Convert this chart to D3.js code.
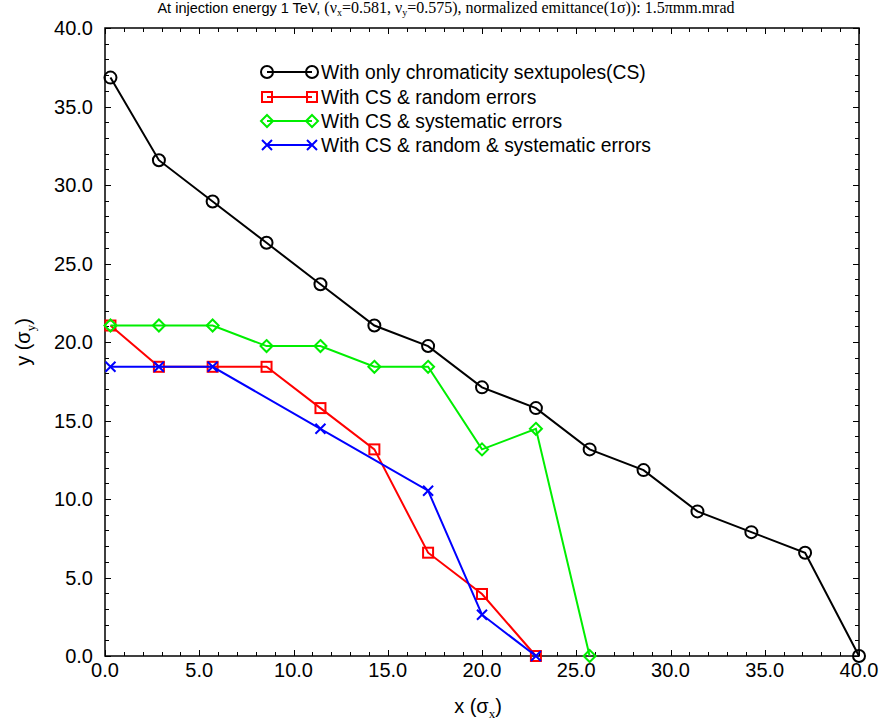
<!DOCTYPE html>
<html><head><meta charset="utf-8">
<script src="https://cdn.jsdelivr.net/npm/d3@7"></script>
<style>body{margin:0;background:#fff}svg{display:block}</style>
</head><body>
<svg id="c" width="885" height="725"></svg>
<script>
const xTicks = [0,5,10,15,20,25,30,35,40];
const yTicks = [0,5,10,15,20,25,30,35,40];
const seriesNames = ["With only chromaticity sextupoles(CS)","With CS & random errors","With CS & systematic errors","With CS & random & systematic errors"];
const seriesColors = ["#000000","#ff0000","#00ee00","#0000ff"];
const seriesMarkers = ["circle","square","diamond","cross"];
const xCS = [0.29,2.86,5.71,8.57,11.43,14.29,17.14,20.0,22.86,25.71,28.57,31.43,34.29,37.14,40.0];
const yCS = [36.84,31.58,28.95,26.32,23.68,21.05,19.74,17.11,15.79,13.16,11.84,9.21,7.89,6.58,0.0];
const xRand = [0.29,2.86,5.71,8.57,11.43,14.29,17.14,20.0,22.86];
const yRand = [21.05,18.42,18.42,18.42,15.79,13.16,6.58,3.95,0.0];
const xSys = [0.29,2.86,5.71,8.57,11.43,14.29,17.14,20.0,22.86,25.71];
const ySys = [21.05,21.05,21.05,19.74,19.74,18.42,18.42,13.16,14.47,0.0];
const xBoth = [0.29,2.86,5.71,11.43,17.14,20.0,22.86];
const yBoth = [18.42,18.42,18.42,14.47,10.53,2.63,0.0];

const series = [
  {x:xCS,y:yCS},{x:xRand,y:yRand},{x:xSys,y:ySys},{x:xBoth,y:yBoth}
].map((s,i)=>({name:seriesNames[i],color:seriesColors[i],marker:seriesMarkers[i],pts:s.x.map((v,j)=>[v,s.y[j]])}));

const svg = d3.select("#c");
const L=105,R=859,T=28,B=656;
const x = d3.scaleLinear().domain([0,40]).range([L,R]);
const y = d3.scaleLinear().domain([0,40]).range([B,T]);
const sans = "Liberation Sans, Arial, sans-serif";
const serif = "Liberation Serif, Times New Roman, serif";

// ticks (inward, all sides)
const minor = d3.range(0,41,1);
const g = svg.append("g").attr("stroke","#000").attr("stroke-width",1);
minor.forEach(v=>{
  const len = v%5===0?6:4;
  const xv = Math.round(x(v))+0.5, yv=Math.round(y(v))+0.5;
  g.append("line").attr("x1",xv).attr("x2",xv).attr("y1",B).attr("y2",B-len);
  g.append("line").attr("x1",xv).attr("x2",xv).attr("y1",T).attr("y2",T+len);
  g.append("line").attr("x1",L).attr("x2",L+len).attr("y1",yv).attr("y2",yv);
  g.append("line").attr("x1",R).attr("x2",R-len).attr("y1",yv).attr("y2",yv);
});
svg.append("rect").attr("x",L).attr("y",T).attr("width",R-L).attr("height",B-T)
  .attr("fill","none").attr("stroke","#000").attr("stroke-width",1.5);

// tick labels
svg.append("g").selectAll("text").data(xTicks).join("text")
  .attr("x",d=>x(d)).attr("y",677).attr("text-anchor","middle")
  .attr("font-family",sans).attr("font-size",20).text(d=>d.toFixed(1));
svg.append("g").selectAll("text").data(yTicks).join("text")
  .attr("x",93).attr("y",d=>y(d)+7).attr("text-anchor","end")
  .attr("font-family",sans).attr("font-size",20).text(d=>d.toFixed(1));

// axis titles
const xl = svg.append("text").attr("x",478).attr("y",713).attr("text-anchor","middle")
  .attr("font-family",sans).attr("font-size",20);
xl.append("tspan").text("x (σ");
xl.append("tspan").attr("font-family",serif).attr("font-size",13).attr("dy",5).text("x");
xl.append("tspan").attr("dy",-5).text(")");
const yl = svg.append("text").attr("transform","translate(30,342) rotate(-90)").attr("text-anchor","middle")
  .attr("font-family",sans).attr("font-size",20);
yl.append("tspan").text("y (σ");
yl.append("tspan").attr("font-family",serif).attr("font-size",13).attr("dy",5).text("y");
yl.append("tspan").attr("dy",-5).text(")");

// title
const tt = svg.append("text").attr("x",446).attr("y",13).attr("text-anchor","middle").attr("font-size",16).attr("font-family",serif);
tt.append("tspan").attr("font-family",sans).attr("font-size",14.5).text("At injection energy 1 TeV, ");
tt.append("tspan").text("(ν");
tt.append("tspan").attr("font-size",10).attr("dy",3).text("x");
tt.append("tspan").attr("dy",-3).text("=0.581, ν");
tt.append("tspan").attr("font-size",10).attr("dy",3).text("y");
tt.append("tspan").attr("dy",-3).text("=0.575), normalized emittance(1σ)): 1.5πmm.mrad");

function drawMarker(sel,type,color,cx,cy){
  if(type==="circle") sel.append("circle").attr("cx",cx).attr("cy",cy).attr("r",6).attr("fill","none").attr("stroke",color).attr("stroke-width",2);
  else if(type==="square") sel.append("rect").attr("x",cx-5).attr("y",cy-5).attr("width",10).attr("height",10).attr("fill","none").attr("stroke",color).attr("stroke-width",2);
  else if(type==="diamond") sel.append("path").attr("d",`M${cx},${cy-6}L${cx+6},${cy}L${cx},${cy+6}L${cx-6},${cy}Z`).attr("fill","none").attr("stroke",color).attr("stroke-width",2);
  else sel.append("path").attr("d",`M${cx-5},${cy-5}L${cx+5},${cy+5}M${cx-5},${cy+5}L${cx+5},${cy-5}`).attr("fill","none").attr("stroke",color).attr("stroke-width",2);
}

const line = d3.line().x(d=>x(d[0])).y(d=>y(d[1]));
series.forEach(s=>{
  const gs = svg.append("g");
  gs.append("path").attr("d",line(s.pts)).attr("fill","none").attr("stroke",s.color).attr("stroke-width",2);
  s.pts.forEach(p=>drawMarker(gs,s.marker,s.color,x(p[0]),y(p[1])));
});

// legend
const ly = [72,97,121,145];
series.forEach((s,i)=>{
  const gl = svg.append("g");
  gl.append("line").attr("x1",267).attr("x2",312).attr("y1",ly[i]).attr("y2",ly[i]).attr("stroke",s.color).attr("stroke-width",2);
  drawMarker(gl,s.marker,s.color,267,ly[i]);
  drawMarker(gl,s.marker,s.color,312,ly[i]);
  gl.append("text").attr("x",321).attr("y",ly[i]+7).attr("font-family",sans).attr("font-size",19.3).text(s.name);
});
</script>
</body></html>
